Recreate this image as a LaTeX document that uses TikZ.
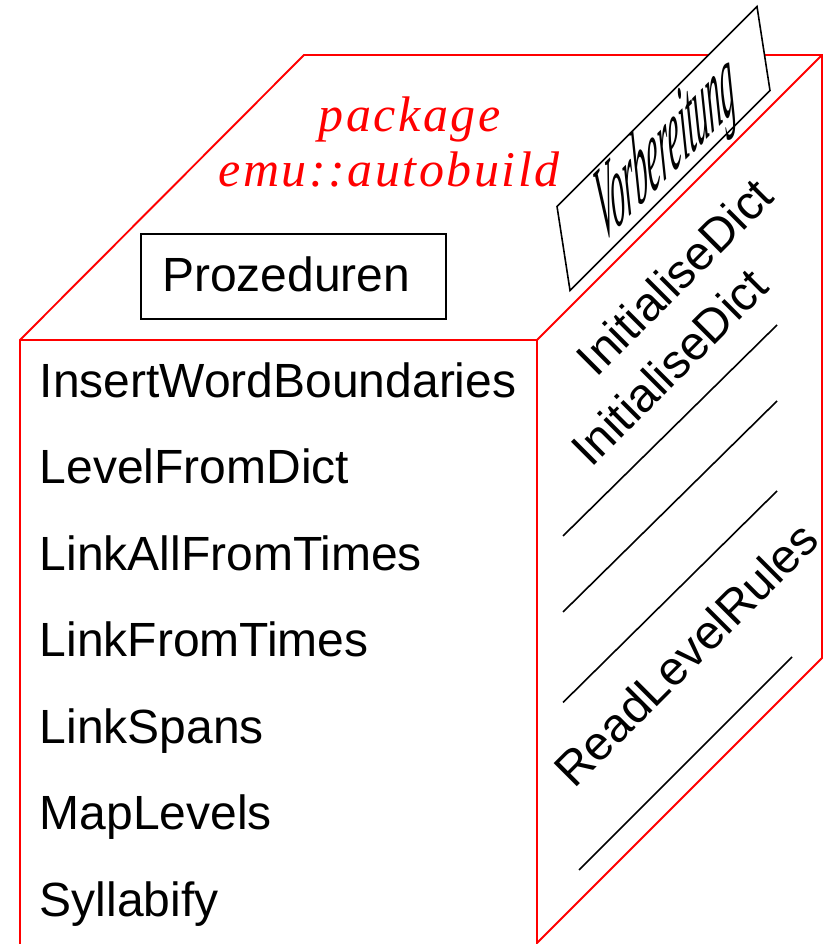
\documentclass[tikz,border=0pt]{standalone}
\usepackage{fontspec}
\setmainfont{Liberation Sans}
\newfontfamily\redserif[LetterSpace=5]{Liberation Serif}
\newfontfamily\vserif{Liberation Serif}
\begin{document}
\begin{tikzpicture}[x=1pt,y=1pt,
  cubeedge/.style={draw=red, line width=1.9pt, line join=miter},
  blackline/.style={draw=black, line width=1.6pt},
  listlabel/.style={font=\fontsize{48}{57}\selectfont, inner sep=0pt, anchor=base west},
  sidelabel/.style={font=\fontsize{47.6}{57}\selectfont, inner sep=0pt, anchor=base, rotate=45},
  redlabel/.style={font=\redserif\itshape\fontsize{50}{60}\selectfont, text=red, inner sep=0pt, anchor=base}]
\useasboundingbox (0,0) rectangle (829,944);

% cube corners
\coordinate (FLT) at (20,604);
\coordinate (FRT) at (537,604);
\coordinate (BLT) at (304,889);
\coordinate (BRT) at (822,889);
\coordinate (FRB) at (537,1);
\coordinate (FLB) at (20,-3);
\coordinate (BRB) at (822,286);

\draw[cubeedge] (FLB) -- (FLT) -- (BLT) -- (BRT) -- (BRB) -- (FRB) -- (FRT) -- (FLT);
\draw[cubeedge] (FRT) -- (BRT);

% top face
\node (pkg) [redlabel] at (409.5,812) {package};
\node (emu) [redlabel] at (389,757) {emu::autobuild};
\node (prozbox) [draw, line width=1.6pt, minimum width=305pt, minimum height=85pt, inner sep=0pt] at (293.5,667.5) {};
\node (proz) [listlabel] at (162,652) {Prozeduren};

% front face
\node (p1) [listlabel] at (39.5,546.5) {InsertWordBoundaries};
\node (p2) [listlabel] at (39.5,460) {LevelFromDict};
\node (p3) [listlabel] at (39.5,373.5) {LinkAllFromTimes};
\node (p4) [listlabel] at (39.5,287) {LinkFromTimes};
\node (p5) [listlabel] at (39.5,200.5) {LinkSpans};
\node (p6) [listlabel] at (39.5,114) {MapLevels};
\node (p7) [listlabel] at (39.5,27.5) {Syllabify};

% right face
\coordinate (l1a) at (563,408);   \coordinate (l1b) at (777,619);
\coordinate (l2a) at (563,332);   \coordinate (l2b) at (777,543);
\coordinate (l3a) at (563,241.5); \coordinate (l3b) at (777,453);
\coordinate (l4a) at (579,74);    \coordinate (l4b) at (792,287);
\draw[blackline] (l1a) -- (l1b);
\draw[blackline] (l2a) -- (l2b);
\draw[blackline] (l3a) -- (l3b);
\draw[blackline] (l4a) -- (l4b);
\node (init1) [sidelabel] at (686.5,655.5) {InitialiseDict};
\node (init2) [sidelabel] at (681,565) {InitialiseDict};
\node (rlr) [sidelabel] at (698,278) {ReadLevelRules};

% Vorbereitung tab
\begin{scope}[shift={(663.5,795.5)}, cm={0.7071,0.7071,-0.1529,0.9882,(0,0)}]
  \node (vbox) [draw, fill=white, line width=1.6pt, minimum width=282.8pt, minimum height=85pt, inner sep=0pt, transform shape] at (0,0) {};
  \node (vtext) [font=\vserif\itshape\fontsize{104}{116}\selectfont, inner sep=0pt, anchor=base, xscale=0.355, transform shape] at (3,-30) {Vorbereitung};
\end{scope}
\end{tikzpicture}
\end{document}
